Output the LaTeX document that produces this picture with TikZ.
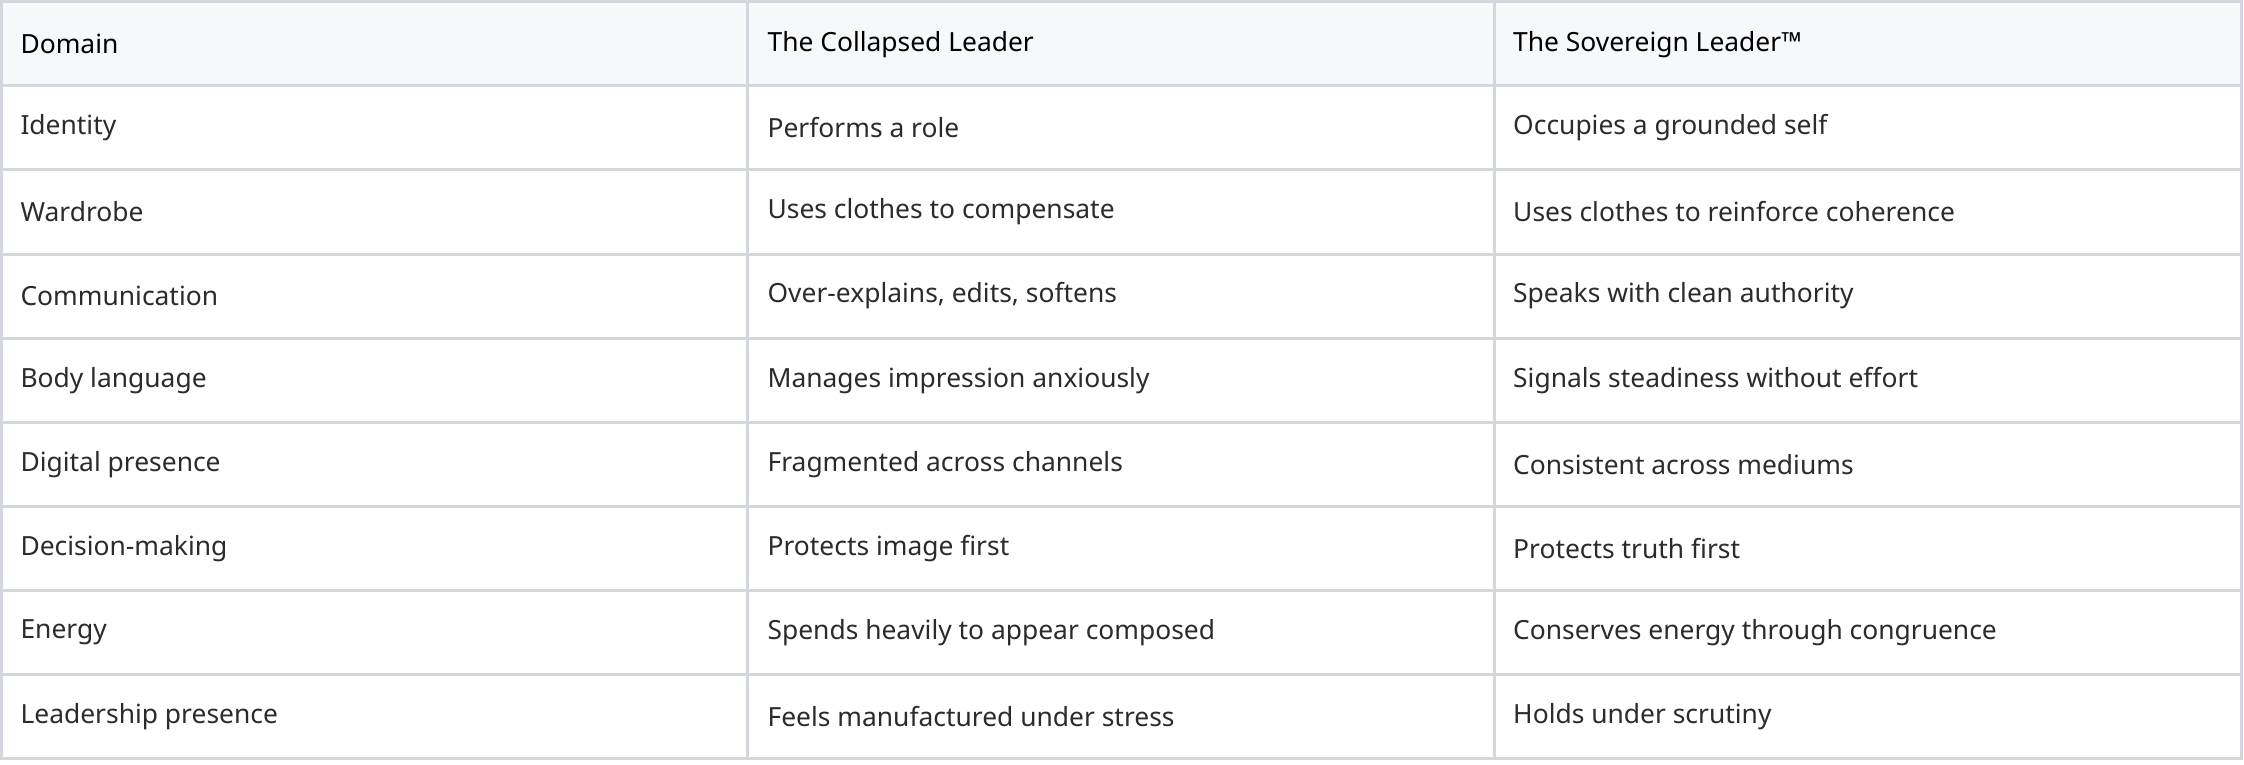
\documentclass[tikz,border=0pt]{standalone}
\usepackage{fontspec}
\setmainfont{Noto Sans}
\usepackage{xcolor}
\definecolor{cgrid}{HTML}{D3D6DD}
\definecolor{chead}{HTML}{F7F8FA}
\definecolor{ctext}{HTML}{2B2B2B}

\begin{document}
\begin{tikzpicture}[x=0.02cm, y=-0.02cm]
    \tikzset{
        cell/.style={anchor=west, inner sep=0pt, font=\fontsize{10.5}{12}\selectfont, text=ctext},
        headcell/.style={cell, font=\fontsize{10.5}{12}\selectfont\bfseries, text=black},
        gridline/.style={draw=cgrid, line width=1.2pt}
    }

    \useasboundingbox (0,0) rectangle (1568,534);
    \fill[chead] (1,1) rectangle (1566,60);

    \node[headcell] (h1) at (14,31) {Domain};
    \node[headcell] (h2) at (536,31) {The Collapsed Leader};
    \node[headcell] (h3) at (1057,31) {The Sovereign Leader™};

    \foreach \i/\a/\b/\c in {
        1/Identity/Performs a role/Occupies a grounded self,
        2/Wardrobe/Uses clothes to compensate/Uses clothes to reinforce coherence,
        3/Communication/{Over-explains, edits, softens}/Speaks with clean authority,
        4/Body language/Manages impression anxiously/Signals steadiness without effort,
        5/Digital presence/Fragmented across channels/Consistent across mediums,
        6/Decision-making/Protects image first/Protects truth first,
        7/Energy/Spends heavily to appear composed/Conserves energy through congruence,
        8/Leadership presence/Feels manufactured under stress/Holds under scrutiny} {
        \node[cell] (a\i) at (14,{60+(\i-0.5)*58.75}) {\a};
        \node[cell] (b\i) at (536,{60+(\i-0.5)*58.75}) {\b};
        \node[cell] (c\i) at (1057,{60+(\i-0.5)*58.75}) {\c};
        \draw[gridline] (1,{60+\i*58.75}) -- (1566,{60+\i*58.75});
    }

    % grid
    \draw[gridline] (1,1) rectangle (1566,530);
    \draw[gridline] (1,60) -- (1566,60);
    \draw[gridline] (522,1) -- (522,530);
    \draw[gridline] (1044,1) -- (1044,530);
\end{tikzpicture}
\end{document}
